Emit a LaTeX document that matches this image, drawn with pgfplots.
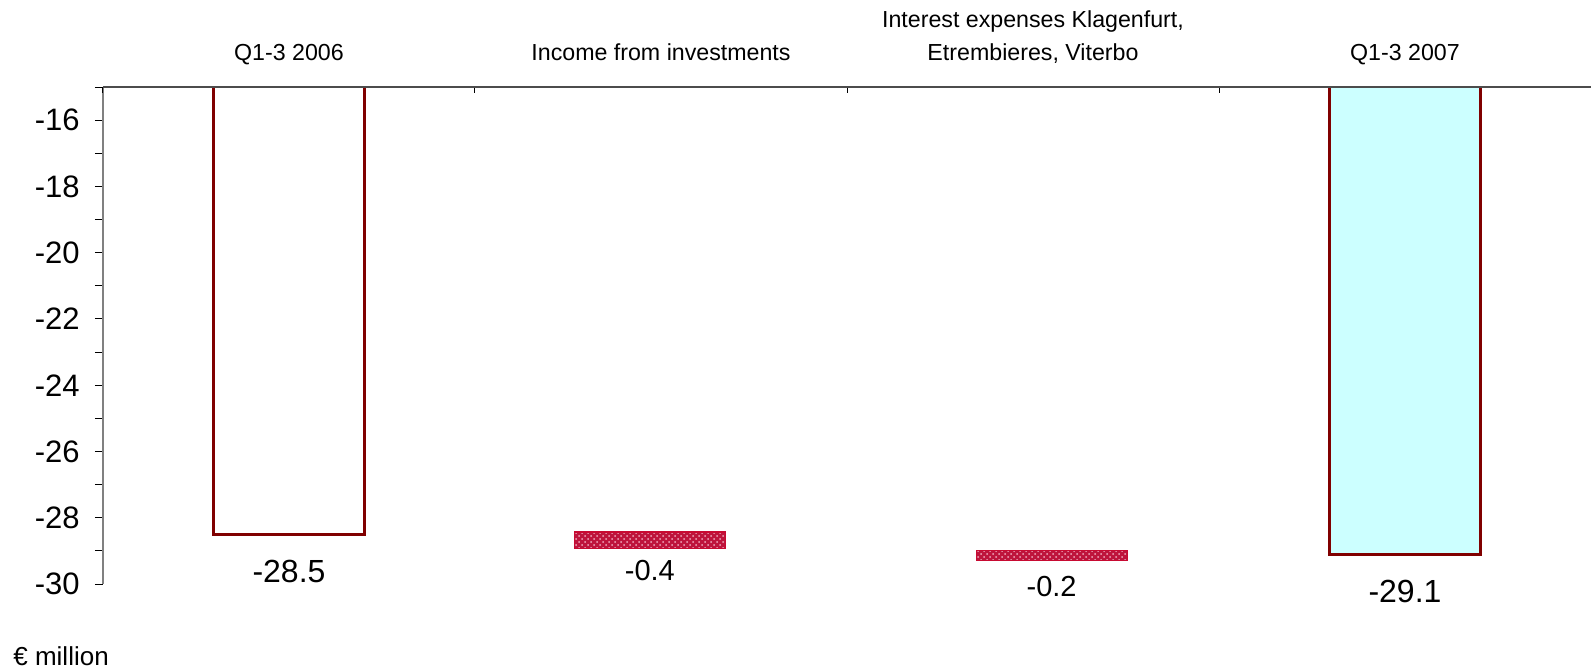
\documentclass[border=0pt]{standalone}
\usepackage{pgfplots}
\pgfplotsset{compat=1.18}
\usepackage{fontspec}
\setmainfont{Liberation Sans}
\usetikzlibrary{patterns}

\definecolor{barred}{RGB}{128,0,0}
\definecolor{barcyan}{RGB}{204,255,255}
\definecolor{hatchred}{RGB}{190,20,60}
\definecolor{hatchline}{RGB}{200,10,50}
\definecolor{hatchdot}{RGB}{240,170,190}

\pgfplotsset{
  wf/.style={
    at={(0pt,0pt)}, anchor=south west,
    width=744pt, height=248.5pt, scale only axis,
    xmin=-0.5, xmax=3.5, ymin=-30, ymax=-15,
  }
}

\begin{document}
\begin{tikzpicture}
\useasboundingbox (-51.5pt,-43.5pt) rectangle (744pt,292pt);
% y axis and the two floating bars
\begin{axis}[wf,
  axis x line=none, axis y line*=left,
  ybar stacked, bar width=75.5pt,
  ytick={-30,-28,...,-16}, minor ytick={-29,-27,...,-15},
  tick align=outside, major tick length=4pt, minor tick length=4pt,
  tick style={black, line width=0.5pt},
  y axis line style={black!50, line width=0.8pt},
  /pgf/number format/assume math mode=true,
  yticklabel style={font=\fontsize{15.5}{18}\selectfont, inner sep=0pt, xshift=-7.5pt},
]
\addplot[draw=none, fill=none] coordinates {(0.97,-28.43) (2.05,-29.0)};
\addplot[draw=hatchline, line width=0.6pt, fill=hatchred,
  postaction={pattern=crosshatch dots, pattern color=hatchdot},
  point meta=explicit symbolic, nodes near coords,
  every node near coord/.append style={font=\fontsize{14.5}{17}\selectfont, text=black, anchor=center, yshift=-15.3pt}]
  coordinates {(0.97,-0.49) [-0.4] (2.05,-0.3) [-0.2]};
\end{axis}
% x axis with categories and the two total bars
\begin{axis}[wf,
  axis y line=none, axis x line*=top, axis on top,
  ybar, bar width=75.5pt, bar shift=0pt,
  xtick={0,1,2,3},
  xticklabels={Q1-3 2006, Income from investments, {Interest expenses Klagenfurt,\\Etrembieres, Viterbo}, Q1-3 2007},
  minor xtick={-0.5,0.5,1.5,2.5,3.5},
  tick align=inside, major tick length=0pt, minor tick length=3pt,
  tick style={black, line width=0.5pt},
  x axis line style={black!70, line width=0.8pt},
  xticklabel style={font=\fontsize{11.6}{16.5}\selectfont, align=center, anchor=south, inner sep=0pt, text depth=0pt, yshift=13pt},
  point meta=explicit symbolic, nodes near coords,
  every node near coord/.append style={font=\fontsize{16}{19}\selectfont, anchor=center, yshift=-18.5pt},
]
\addplot[draw=barred, fill=white, line width=1.35pt] coordinates {(0,-28.5) [-28.5]};
\addplot[draw=barred, fill=barcyan, line width=1.35pt] coordinates {(3,-29.1) [-29.1]};
\end{axis}
\node[anchor=west, font=\fontsize{13}{15}\selectfont, inner sep=0pt] at (-45pt,-36pt) {€ million};
\end{tikzpicture}
\end{document}
